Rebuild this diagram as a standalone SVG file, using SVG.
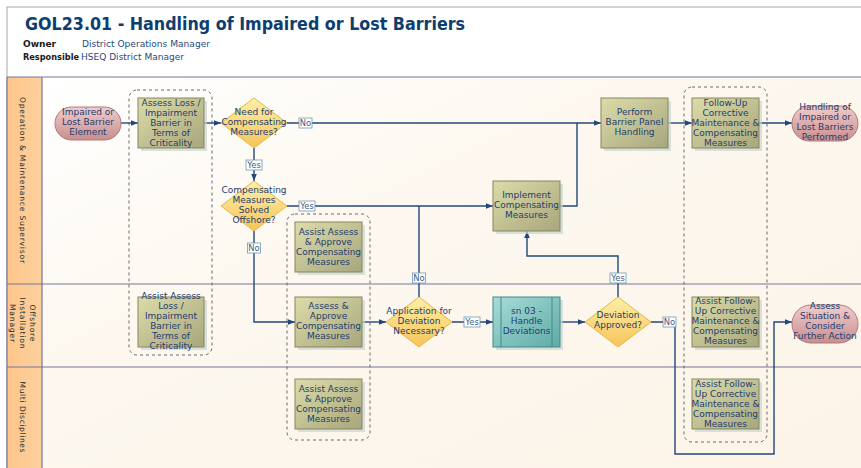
<svg xmlns="http://www.w3.org/2000/svg" width="861" height="468" viewBox="0 0 861 468">
  <defs>
    <linearGradient id="laneBg" x1="0" y1="0" x2="1" y2="1">
      <stop offset="0" stop-color="#ffffff"/>
      <stop offset="0.35" stop-color="#fdf8f0"/>
      <stop offset="1" stop-color="#fcf4e8"/>
    </linearGradient>
    <linearGradient id="laneHead" x1="0" y1="0" x2="1" y2="0">
      <stop offset="0" stop-color="#fdc68a"/>
      <stop offset="1" stop-color="#fdd09e"/>
    </linearGradient>
    <linearGradient id="taskFill" x1="0" y1="0" x2="1" y2="1">
      <stop offset="0" stop-color="#dcdcaa"/>
      <stop offset="1" stop-color="#a8a67c"/>
    </linearGradient>
    <linearGradient id="decFill" x1="0" y1="0" x2="0" y2="1">
      <stop offset="0" stop-color="#fdf0a8"/>
      <stop offset="1" stop-color="#f6c45a"/>
    </linearGradient>
    <linearGradient id="termFill" x1="0" y1="0" x2="0" y2="1">
      <stop offset="0" stop-color="#f0cccc"/>
      <stop offset="1" stop-color="#c98e8e"/>
    </linearGradient>
    <linearGradient id="subFill" x1="0" y1="0" x2="1" y2="1">
      <stop offset="0" stop-color="#a8dcd8"/>
      <stop offset="1" stop-color="#5eaaa6"/>
    </linearGradient>
    <marker id="arrow" viewBox="0 0 8 8" refX="8" refY="4" markerWidth="7" markerHeight="7" markerUnits="userSpaceOnUse" orient="auto">
      <path d="M0,0.8 L8,4 L0,7.2 Z" fill="#23477a"/>
    </marker>
    <style>
      .lbl { font-family: "DejaVu Sans", Verdana, sans-serif; font-size: 9px; fill: #1f3d6e; text-anchor: middle; }
      .task { fill: url(#taskFill); stroke: #87855e; stroke-width: 1; }
      .shadow { fill: #c9d6d2; opacity: 0.7; }
      .dec { fill: url(#decFill); stroke: #e8b648; stroke-width: 1; }
      .term { fill: url(#termFill); stroke: #b07a7a; stroke-width: 1; }
      .sub { fill: url(#subFill); stroke: #3f8c88; stroke-width: 1; }
      .grp { fill: none; stroke: #6a6a6a; stroke-width: 1; stroke-dasharray: 3 3; }
      .conn { fill: none; stroke: #23477a; stroke-width: 1.4; }
      .arr { marker-end: url(#arrow); }
      .tag rect { fill: #ffffff; stroke: #6f9ab0; stroke-width: 0.8; }
      .tag text { font-family: "DejaVu Sans", Verdana, sans-serif; font-size: 8.4px; fill: #3b5c86; text-anchor: middle; }
      .lane { font-family: "DejaVu Sans", Verdana, sans-serif; font-size: 7.6px; fill: #2b2b2b; text-anchor: middle; }
      .sep { stroke: #76769e; stroke-width: 1.2; }
      .meta { font-family: "DejaVu Sans", Verdana, sans-serif; font-size: 8.8px; }
    </style>
  </defs>

  <!-- page -->
  <rect x="0" y="0" width="861" height="468" fill="#ffffff"/>
  <rect x="7" y="7" width="860" height="470" fill="none" stroke="#a8a8a8" stroke-width="1"/>

  <!-- header -->
  <g id="header">
    <text x="25" y="30" font-family="DejaVu Sans, Verdana, sans-serif" font-weight="bold" font-size="17" fill="#0e3d6f" textLength="440" lengthAdjust="spacingAndGlyphs">GOL23.01 - Handling of Impaired or Lost Barriers</text>
    <text class="meta" x="23" y="47" font-weight="bold" fill="#1a1a1a" textLength="33" lengthAdjust="spacingAndGlyphs">Owner</text>
    <text class="meta" x="82" y="47" fill="#1f4a80" textLength="128" lengthAdjust="spacingAndGlyphs">District Operations Manager</text>
    <text class="meta" x="23" y="60" font-weight="bold" fill="#1a1a1a" textLength="56" lengthAdjust="spacingAndGlyphs">Responsible</text>
    <text class="meta" x="81" y="60" fill="#1f4a80" textLength="103" lengthAdjust="spacingAndGlyphs">HSEQ District Manager</text>
  </g>

  <!-- swimlanes -->
  <g id="lanes">
    <rect x="42" y="77" width="819" height="391" fill="url(#laneBg)"/>
    <rect x="7" y="77" width="35" height="391" fill="url(#laneHead)"/>
    <line class="sep" x1="7" y1="77" x2="861" y2="77"/>
    <line class="sep" x1="7" y1="284" x2="861" y2="284"/>
    <line class="sep" x1="7" y1="367" x2="861" y2="367"/>
    <line class="sep" x1="42" y1="77" x2="42" y2="468"/>
    <line class="sep" x1="7" y1="77" x2="7" y2="468"/>
    <g transform="translate(23,180) rotate(90)">
      <text class="lane" x="0" y="3" textLength="166" lengthAdjust="spacing">Operation &amp; Maintenance Supervisor</text>
    </g>
    <g transform="translate(23,323) rotate(90)">
      <text class="lane" x="0" y="-7" textLength="37" lengthAdjust="spacing">Offshore</text>
      <text class="lane" x="0" y="3" textLength="51" lengthAdjust="spacing">Installation</text>
      <text class="lane" x="0" y="13" textLength="38" lengthAdjust="spacing">Manager</text>
    </g>
    <g transform="translate(23,417) rotate(90)">
      <text class="lane" x="0" y="3" textLength="71" lengthAdjust="spacing">Multi Disciplines</text>
    </g>
  </g>

  <!-- dashed groupings -->
  <g id="groups">
    <rect class="grp" x="129" y="90" width="83" height="265" rx="8"/>
    <rect class="grp" x="287" y="214" width="83" height="226" rx="8"/>
    <rect class="grp" x="684" y="87" width="83" height="355" rx="8"/>
  </g>

  <!-- connectors -->
  <g id="connectors">
    <path class="conn arr" d="M121,123 H138"/>
    <path class="conn arr" d="M204,123 H221"/>
    <path class="conn arr" d="M287,123 H601"/>
    <path class="conn arr" d="M254,148 V181"/>
    <path class="conn arr" d="M287,206 H493"/>
    <path class="conn arr" d="M254,231 V322 H295"/>
    <path class="conn" d="M419,297 V206"/>
    <path class="conn" d="M560,206 H577 V123"/>
    <path class="conn arr" d="M668,123 H692"/>
    <path class="conn arr" d="M759,123 H792"/>
    <path class="conn arr" d="M362,322 H386"/>
    <path class="conn arr" d="M452,322 H493"/>
    <path class="conn arr" d="M560,322 H585"/>
    <path class="conn arr" d="M618,297 V256 H527 V231"/>
    <path class="conn arr" d="M651,322 H675 V454 H774 V322 H792"/>
    <g class="tag"><rect x="299" y="118" width="13" height="10"/><text x="305.5" y="126">No</text></g>
    <g class="tag"><rect x="246" y="160" width="16" height="10"/><text x="254" y="168">Yes</text></g>
    <g class="tag"><rect x="299" y="201" width="16" height="10"/><text x="307" y="209">Yes</text></g>
    <g class="tag"><rect x="247.5" y="243" width="13" height="10"/><text x="254" y="251">No</text></g>
    <g class="tag"><rect x="412.5" y="273" width="13" height="10"/><text x="419" y="281">No</text></g>
    <g class="tag"><rect x="464" y="317" width="16" height="10"/><text x="472" y="325">Yes</text></g>
    <g class="tag"><rect x="610" y="273" width="16" height="10"/><text x="618" y="281">Yes</text></g>
    <g class="tag"><rect x="663" y="317" width="13" height="10"/><text x="669.5" y="325">No</text></g>
  </g>

  <!-- Operation & Maintenance Supervisor lane -->
  <g id="start-impaired">
    <rect x="55" y="107" width="66" height="33" rx="16.5" class="term"/>
    <text class="lbl" x="88" y="115">Impaired or</text>
    <text class="lbl" x="88" y="125">Lost Barrier</text>
    <text class="lbl" x="88" y="135">Element</text>
  </g>
  <g id="assess-loss">
    <rect class="shadow" x="141" y="101" width="66" height="50"/>
    <rect class="task" x="138" y="98" width="66" height="50"/>
    <text class="lbl" x="171" y="106">Assess Loss /</text>
    <text class="lbl" x="171" y="116">Impairment</text>
    <text class="lbl" x="171" y="126">Barrier in</text>
    <text class="lbl" x="171" y="136">Terms of</text>
    <text class="lbl" x="171" y="146">Criticality</text>
  </g>
  <g id="need-compensating">
    <polygon class="dec" points="254,98 287,123 254,148 221,123"/>
    <text class="lbl" x="254" y="115">Need for</text>
    <text class="lbl" x="254" y="125">Compensating</text>
    <text class="lbl" x="254" y="135">Measures?</text>
  </g>
  <g id="solved-offshore">
    <polygon class="dec" points="254,181 287,206 254,231 221,206"/>
    <text class="lbl" x="254" y="193">Compensating</text>
    <text class="lbl" x="254" y="203">Measures</text>
    <text class="lbl" x="254" y="213">Solved</text>
    <text class="lbl" x="254" y="223">Offshore?</text>
  </g>
  <g id="assist-approve-oms">
    <rect class="shadow" x="298" y="225" width="67" height="50"/>
    <rect class="task" x="295" y="222" width="67" height="50"/>
    <text class="lbl" x="328.5" y="235">Assist Assess</text>
    <text class="lbl" x="328.5" y="245">&amp; Approve</text>
    <text class="lbl" x="328.5" y="255">Compensating</text>
    <text class="lbl" x="328.5" y="265">Measures</text>
  </g>
  <g id="implement-compensating">
    <rect class="shadow" x="496" y="184" width="67" height="50"/>
    <rect class="task" x="493" y="181" width="67" height="50"/>
    <text class="lbl" x="526.5" y="198">Implement</text>
    <text class="lbl" x="526.5" y="208">Compensating</text>
    <text class="lbl" x="526.5" y="218">Measures</text>
  </g>
  <g id="perform-barrier">
    <rect class="shadow" x="604" y="101" width="67" height="50"/>
    <rect class="task" x="601" y="98" width="67" height="50"/>
    <text class="lbl" x="634.5" y="115">Perform</text>
    <text class="lbl" x="634.5" y="125">Barrier Panel</text>
    <text class="lbl" x="634.5" y="135">Handling</text>
  </g>
  <g id="follow-up">
    <rect class="shadow" x="695" y="101" width="67" height="50"/>
    <rect class="task" x="692" y="98" width="67" height="50"/>
    <text class="lbl" x="725.5" y="106">Follow-Up</text>
    <text class="lbl" x="725.5" y="116">Corrective</text>
    <text class="lbl" x="725.5" y="126">Maintenance &amp;</text>
    <text class="lbl" x="725.5" y="136">Compensating</text>
    <text class="lbl" x="725.5" y="146">Measures</text>
  </g>
  <g id="end-performed">
    <rect x="792" y="106" width="66" height="35" rx="17.5" class="term"/>
    <text class="lbl" x="825" y="110">Handling of</text>
    <text class="lbl" x="825" y="120">Impaired or</text>
    <text class="lbl" x="825" y="130">Lost Barriers</text>
    <text class="lbl" x="825" y="140">Performed</text>
  </g>

  <!-- Offshore Installation Manager lane -->
  <g id="assist-assess-loss">
    <rect class="shadow" x="141" y="300" width="66" height="50"/>
    <rect class="task" x="138" y="297" width="66" height="50"/>
    <text class="lbl" x="171" y="299">Assist Assess</text>
    <text class="lbl" x="171" y="309">Loss /</text>
    <text class="lbl" x="171" y="319">Impairment</text>
    <text class="lbl" x="171" y="329">Barrier in</text>
    <text class="lbl" x="171" y="339">Terms of</text>
    <text class="lbl" x="171" y="349">Criticality</text>
  </g>
  <g id="assess-approve">
    <rect class="shadow" x="298" y="300" width="67" height="50"/>
    <rect class="task" x="295" y="297" width="67" height="50"/>
    <text class="lbl" x="328.5" y="309">Assess &amp;</text>
    <text class="lbl" x="328.5" y="319">Approve</text>
    <text class="lbl" x="328.5" y="329">Compensating</text>
    <text class="lbl" x="328.5" y="339">Measures</text>
  </g>
  <g id="deviation-necessary">
    <polygon class="dec" points="419,297 452,322 419,347 386,322"/>
    <text class="lbl" x="419" y="314">Application for</text>
    <text class="lbl" x="419" y="324">Deviation</text>
    <text class="lbl" x="419" y="334">Necessary?</text>
  </g>
  <g id="handle-deviations">
    <rect class="shadow" x="496" y="300" width="67" height="50"/>
    <rect class="sub" x="493" y="297" width="67" height="50"/>
    <line x1="501" y1="297" x2="501" y2="347" stroke="#3f8c88" stroke-width="1"/>
    <line x1="552" y1="297" x2="552" y2="347" stroke="#3f8c88" stroke-width="1"/>
    <text class="lbl" x="526.5" y="314">sn 03 -</text>
    <text class="lbl" x="526.5" y="324">Handle</text>
    <text class="lbl" x="526.5" y="334">Deviations</text>
  </g>
  <g id="deviation-approved">
    <polygon class="dec" points="618,297 651,322 618,347 585,322"/>
    <text class="lbl" x="618" y="318">Deviation</text>
    <text class="lbl" x="618" y="328">Approved?</text>
  </g>
  <g id="assist-follow-up-oim">
    <rect class="shadow" x="695" y="300" width="67" height="50"/>
    <rect class="task" x="692" y="297" width="67" height="50"/>
    <text class="lbl" x="725.5" y="304">Assist Follow-</text>
    <text class="lbl" x="725.5" y="314">Up Corrective</text>
    <text class="lbl" x="725.5" y="324">Maintenance &amp;</text>
    <text class="lbl" x="725.5" y="334">Compensating</text>
    <text class="lbl" x="725.5" y="344">Measures</text>
  </g>
  <g id="end-assess-situation">
    <rect x="792" y="305" width="66" height="38" rx="19" class="term"/>
    <text class="lbl" x="825" y="309">Assess</text>
    <text class="lbl" x="825" y="319">Situation &amp;</text>
    <text class="lbl" x="825" y="329">Consider</text>
    <text class="lbl" x="825" y="339">Further Action</text>
  </g>

  <!-- Multi Disciplines lane -->
  <g id="assist-approve-md">
    <rect class="shadow" x="298" y="382" width="67" height="50"/>
    <rect class="task" x="295" y="379" width="67" height="50"/>
    <text class="lbl" x="328.5" y="392">Assist Assess</text>
    <text class="lbl" x="328.5" y="402">&amp; Approve</text>
    <text class="lbl" x="328.5" y="412">Compensating</text>
    <text class="lbl" x="328.5" y="422">Measures</text>
  </g>
  <g id="assist-follow-up-md">
    <rect class="shadow" x="695" y="382" width="67" height="50"/>
    <rect class="task" x="692" y="379" width="67" height="50"/>
    <text class="lbl" x="725.5" y="387">Assist Follow-</text>
    <text class="lbl" x="725.5" y="397">Up Corrective</text>
    <text class="lbl" x="725.5" y="407">Maintenance &amp;</text>
    <text class="lbl" x="725.5" y="417">Compensating</text>
    <text class="lbl" x="725.5" y="427">Measures</text>
  </g>
</svg>
